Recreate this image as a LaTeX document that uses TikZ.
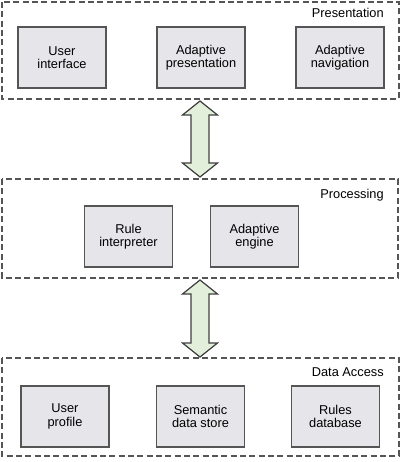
\documentclass[tikz,border=0pt]{standalone}
\usepackage{fontspec}
\setmainfont{Liberation Sans}
\usetikzlibrary{calc}
\definecolor{boxfill}{HTML}{E6E6EA}
\definecolor{boxline}{HTML}{555555}
\definecolor{dashline}{HTML}{555555}
\definecolor{arrfill}{HTML}{E2EFDA}
\definecolor{arrline}{HTML}{404040}
\tikzset{
  box/.style={draw=boxline, line width=1.1pt, fill=boxfill, minimum width=66pt, minimum height=45.75pt, align=center, font=\fontsize{9.6pt}{10pt}\selectfont, inner sep=0pt},
  layer/.style={draw=dashline, line width=1pt, dash pattern=on 4.5pt off 2.5pt},
  layerlabel/.style={anchor=east, font=\fontsize{9.6pt}{10pt}\selectfont, inner sep=0pt},
  blockarrow/.style={draw=arrline, line width=0.9pt, fill=arrfill, line join=miter}
}
\begin{document}
\begin{tikzpicture}[x=0.75pt,y=-0.75pt]
\useasboundingbox (0,0) rectangle (404,462);
% layers
\draw[layer] (2,2) rectangle (399,99);
\draw[layer] (2,179) rectangle (398,278);
\draw[layer] (2,358) rectangle (399,456);
\node[layerlabel] (lpres) at (384,13) {Presentation};
\node[layerlabel] (lproc) at (384,195) {Processing};
\node[layerlabel] (ldata) at (384,372) {Data Access};
% boxes
\node[box] (ui) at (62,57.5) {User\\interface};
\node[box] (ap) at (201,57.5) {Adaptive\\presentation};
\node[box] (an) at (340,57.5) {Adaptive\\navigation};
\node[box] (ri) at (128.5,236.5) {Rule\\interpreter};
\node[box] (ae) at (254.5,236.5) {Adaptive\\engine};
\node[box] (up) at (65,416.5) {User\\profile};
\node[box] (sd) at (200.5,416.5) {Semantic\\data store};
\node[box] (rd) at (335.5,416.5) {Rules\\database};
% block arrows
\coordinate (t1) at (200,101);
\coordinate (b1) at (200,177);
\coordinate (t2) at (200,280);
\coordinate (b2) at (200,357);
\foreach \t/\b in {t1/b1,t2/b2}{
  \draw[blockarrow] (\t) -- ++(17.5,14) -- ++(-8.5,0) -- ($(\b)+(9,-14)$) -- ++(8.5,0) -- (\b)
     -- ++(-17.5,-14) -- ++(8.5,0) -- ($(\t)+(-9,14)$) -- ++(-8.5,0) -- cycle;
}
\end{tikzpicture}
\end{document}
